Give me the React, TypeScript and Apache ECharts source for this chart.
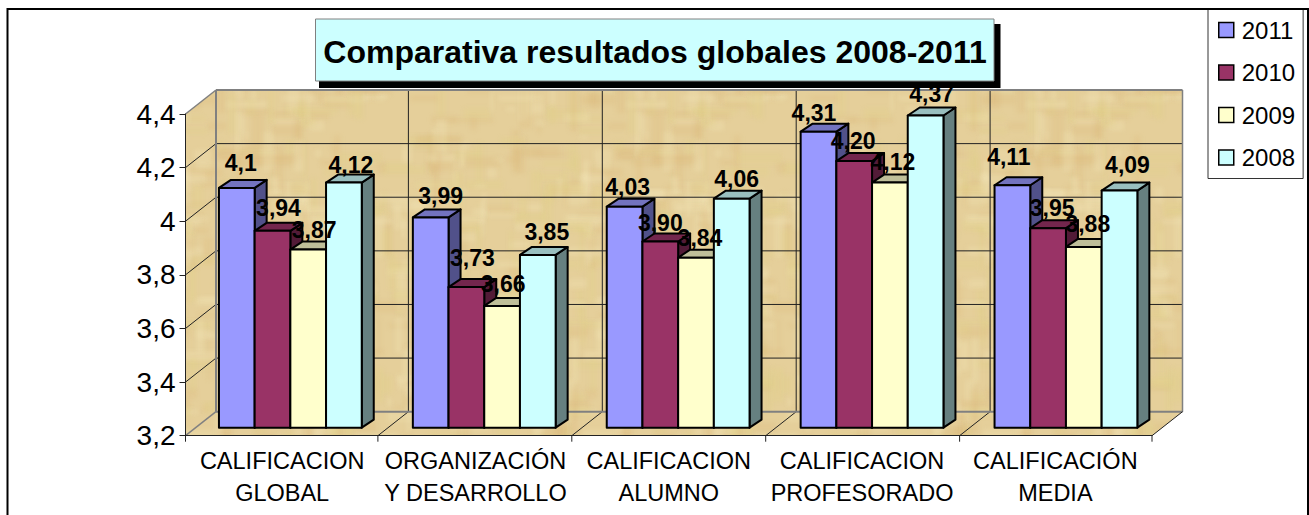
import React, { useEffect, useRef } from "react";
import * as echarts from "echarts";

const categories = [
  "CALIFICACION\nGLOBAL",
  "ORGANIZACIÓN\nY DESARROLLO",
  "CALIFICACION\nALUMNO",
  "CALIFICACION\nPROFESORADO",
  "CALIFICACIÓN\nMEDIA",
];
const seriesNames = ["2011", "2010", "2009", "2008"];
const values2011 = [4.1, 3.99, 4.03, 4.31, 4.11];
const values2010 = [3.94, 3.73, 3.9, 4.2, 3.95];
const values2009 = [3.87, 3.66, 3.84, 4.12, 3.88];
const values2008 = [4.12, 3.85, 4.06, 4.37, 4.09];
const labels2011 = ["4,1", "3,99", "4,03", "4,31", "4,11"];
const labels2010 = ["3,94", "3,73", "3,90", "4,20", "3,95"];
const labels2009 = ["3,87", "3,66", "3,84", "4,12", "3,88"];
const labels2008 = ["4,12", "3,85", "4,06", "4,37", "4,09"];
const yTicks = [3.2, 3.4, 3.6, 3.8, 4, 4.2, 4.4];
const frontColors = ["#9999FF", "#993366", "#FFFFCC", "#CCFFFF"];
const topColors = ["#7373BF", "#73264D", "#BFBF99", "#99BFBF"];
const sideColors = ["#51518A", "#521B37", "#8A8A6E", "#668080"];
const titleText = "Comparativa resultados globales 2008-2011";

// hand-placed data label nudges (the original labels were moved by hand)
const nudgeX = [
  [-2, 4, -3, -10.5, -9.5],
  [0, 0, -6, -7, -2],
  [0, -5, -2, -3, -2],
  [1, 3, -1, 0, 2],
];
const nudgeY = [
  [-3, 0.5, 2, 3, -6],
  [-1, -7, 3, 2, 2],
  [2, 0, 2, 1.5, -1],
  [4.5, -1, 2, 0, -3.5],
];

const FONT = '"Liberation Sans", Arial, sans-serif';
const WALL_DX = 30.5, WALL_DY = 24;
const BAR_DX = 12, BAR_DY = 8, BAR_W = 35.7, GROUP_SHIFT = 8.2, TOP_RISE = 6.5;
const BAND_STRETCH = 0.6; // the original's bands are a little wider than the plot / 5

function parchment(): HTMLCanvasElement {
  const c = document.createElement("canvas");
  c.width = 400; c.height = 400;
  const g = c.getContext("2d") as CanvasRenderingContext2D;
  g.fillStyle = "#E5CF9A";
  g.fillRect(0, 0, 400, 400);
  const h = (n: number) => { const s = Math.sin(n * 127.1) * 43758.5453; return s - Math.floor(s); };
  (g as any).filter = "blur(2px)";
  for (let i = 0; i < 620; i++) {
    const x = h(i) * 400, y = h(i + 500) * 400;
    const vertical = h(i + 2100) > 0.6;
    const a = 6 + h(i + 900) * 40, b = 3 + h(i + 1300) * 9;
    const w = vertical ? b : a, t = vertical ? a : b;
    const k = h(i + 1700);
    g.fillStyle = k > 0.6 ? "rgba(242,230,182,0.3)" : k > 0.3 ? "rgba(220,184,124,0.26)" : "rgba(226,208,136,0.3)";
    g.fillRect(x, y, w, t);
    g.fillRect(x - 400, y, w, t);
    g.fillRect(x, y - 400, w, t);
  }
  return c;
}

export default function App() {
  const ref = useRef<HTMLDivElement>(null);
  useEffect(() => {
    document.body.style.margin = "0";
    document.body.style.background = "#fff";
    const chart = echarts.init(ref.current!, undefined, { renderer: "svg" });
    const tex = parchment();
    const wall = (_p: any, api: any) => {
      const cs = _p.coordSys;
      const x0 = cs.x, x1 = cs.x + cs.width;
      const yb = api.coord([0, 3.2])[1], yt = api.coord([0, 4.4])[1];
      const dx = WALL_DX, dy = WALL_DY;
      const band = cs.width / categories.length;
      const children: any[] = [
        { type: "polygon", shape: { points: [[x0 + dx, yt - dy], [x1 + dx, yt - dy], [x1 + dx, yb - dy], [x0 + dx, yb - dy]] }, style: { fill: { image: tex, repeat: "repeat" } } },
        { type: "polygon", shape: { points: [[x0, yt], [x0 + dx, yt - dy], [x0 + dx, yb - dy], [x0, yb]] }, style: { fill: { image: tex, repeat: "repeat" } } },
        { type: "polygon", shape: { points: [[x0, yb], [x0 + dx, yb - dy], [x1 + dx, yb - dy], [x1, yb]] }, style: { fill: { image: tex, repeat: "repeat" } } },
      ];
      const line = (a: number[], b: number[], stroke: string, w: number) => ({
        type: "line", shape: { x1: a[0], y1: a[1], x2: b[0], y2: b[1] }, style: { stroke, lineWidth: w },
      });
      yTicks.slice(1, -1).forEach((t) => {
        const y = api.coord([0, t])[1];
        children.push(line([x0, y], [x0 + dx, y - dy], "#222", 1));
        children.push(line([x0 + dx, y - dy], [x1 + dx, y - dy], "#222", 1));
      });
      for (let i = 0; i <= categories.length; i++) {
        const inner = i > 0 && i < categories.length;
        const x = x0 + band * i + (inner ? (i - 2.5) * BAND_STRETCH : 0);
        children.push(line([x, yb], [x, yb + 6], "#222", 1));
        if (inner) {
          children.push(line([x, yb], [x + dx, yb - dy], "#222", 1));
          children.push(line([x + dx, yb - dy], [x + dx, yt - dy], "#222", 1));
        }
      }
      children.push(line([x0, yt], [x0 + dx, yt - dy], "#808080", 1.5));
      children.push(line([x0 + dx, yt - dy], [x1 + dx, yt - dy], "#808080", 2));
      children.push(line([x0 + dx, yt - dy], [x0 + dx, yb - dy], "#808080", 2));
      children.push(line([x1 + dx, yt - dy], [x1 + dx, yb - dy], "#808080", 1.5));
      children.push(line([x0 + dx, yb - dy], [x1 + dx, yb - dy], "#808080", 2));
      children.push(line([x0, yb], [x0 + dx, yb - dy], "#808080", 1.5));
      children.push(line([x1, yb], [x1 + dx, yb - dy], "#222", 1));
      return { type: "group", children };
    };
    const bar = (si: number, labels: string[]) => (_p: any, api: any) => {
      const i = api.value(0), v = api.value(1);
      const c = api.coord([i, v]);
      const base = api.coord([i, 3.2]);
      const xl = c[0] + GROUP_SHIFT + (si - 2) * BAR_W + i * BAND_STRETCH;
      const xr = xl + BAR_W;
      const yt = c[1] - TOP_RISE, yb = base[1] - BAR_DY;
      const bw = { stroke: "#000", lineWidth: 2, lineJoin: "round" };
      return {
        type: "group",
        children: [
          { type: "polygon", shape: { points: [[xr, yt], [xr + BAR_DX, yt - BAR_DY], [xr + BAR_DX, yb - BAR_DY], [xr, yb]] }, style: { fill: sideColors[si], ...bw } },
          { type: "polygon", shape: { points: [[xl, yt], [xl + BAR_DX, yt - BAR_DY], [xr + BAR_DX, yt - BAR_DY], [xr, yt]] }, style: { fill: topColors[si], ...bw } },
          { type: "rect", shape: { x: xl, y: yt, width: BAR_W, height: yb - yt }, style: { fill: frontColors[si], ...bw } },
          { type: "text", z2: 100, style: { text: labels[i], x: xl + BAR_W / 2 + BAR_DX / 2 + nudgeX[si][i], y: yt - 22 + nudgeY[si][i], align: "center", verticalAlign: "middle", font: `bold 23px ${FONT}`, fill: "#000" } },
        ],
      };
    };
    const valuesBySeries = [values2011, values2010, values2009, values2008];
    const labelsBySeries = [labels2011, labels2010, labels2009, labels2008];
    const axisText = { color: "#000", fontFamily: FONT };
    chart.setOption({
      animation: false,
      backgroundColor: "#fff",
      title: {
        text: titleText, left: 650, top: 31, textAlign: "center",
        textStyle: { fontFamily: FONT, fontWeight: "bold", fontSize: 32, color: "#000" },
      },
      legend: {
        data: seriesNames, orient: "vertical", left: 1208, top: 9,
        backgroundColor: "#fff", borderColor: "#333", borderWidth: 1,
        padding: [7, 8, 7, 10], itemWidth: 15, itemHeight: 15, itemGap: 14.5, icon: "rect",
        itemStyle: { borderColor: "#000", borderWidth: 1.5 },
        selectedMode: false,
        textStyle: { fontFamily: FONT, fontSize: 24, color: "#000", lineHeight: 28, padding: [0, 0, 0, 3] },
      },
      grid: { left: 185.5, right: 1309 - 1152, top: 114, bottom: 515 - 435.7 },
      xAxis: {
        type: "category", data: categories, z: 5,
        axisLine: { lineStyle: { color: "#222", width: 1 } },
        axisTick: { show: false },
        axisLabel: { ...axisText, fontSize: 23.5, lineHeight: 32, margin: 9, interval: 0 },
      },
      yAxis: {
        type: "value", min: 3.2, max: 4.4, interval: 0.2, z: 5,
        splitLine: { show: false },
        axisLine: { show: true, lineStyle: { color: "#222", width: 1 } },
        axisTick: { show: true, length: 6, lineStyle: { color: "#222" } },
        axisLabel: { ...axisText, fontSize: 28, margin: 10, formatter: (v: number) => String(+v.toFixed(1)).replace(".", ",") },
      },
      graphic: [
        { type: "rect", z: 1, shape: { x: 319, y: 24, width: 681.5, height: 64 }, style: { fill: "#000" } },
        { type: "rect", z: 2, shape: { x: 315.5, y: 19, width: 678.5, height: 62 }, style: { fill: "#CCFFFF", stroke: "#808080", lineWidth: 1 } },
        { type: "rect", z: 20, shape: { x: 7.5, y: 9, width: 1300.5, height: 600 }, style: { fill: "none", stroke: "#000", lineWidth: 2 } },
      ],
      series: [
        { type: "custom", name: "walls", z: 1, renderItem: wall, data: [[0, 3.2]], silent: true },
        ...seriesNames.map((name, si) => ({
          type: "custom", name, z: 2, renderItem: bar(si, labelsBySeries[si]), silent: true,
          itemStyle: { color: frontColors[si] },
          encode: { x: 0, y: 1 },
          data: valuesBySeries[si].map((v, i) => [i, v]),
        })),
      ],
    });
    return () => chart.dispose();
  }, []);
  return <div ref={ref} style={{ width: 1309, height: 515 }} />;
}
